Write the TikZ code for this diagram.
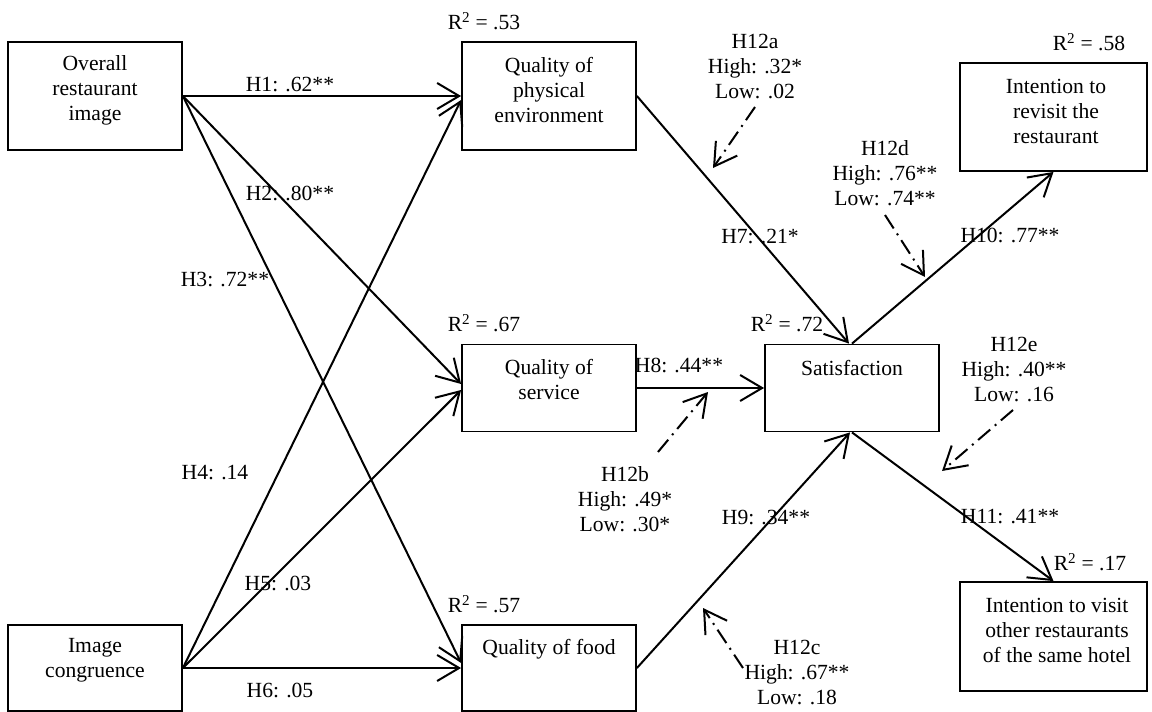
\documentclass[tikz,border=0pt]{standalone}
\usepackage{fontspec}
\setmainfont{Liberation Serif}
\usetikzlibrary{arrows.meta}
\begin{document}
\begin{tikzpicture}[x=1pt,y=-1pt,
  font=\fontsize{21.6}{25}\selectfont,
  box/.style={draw, line width=1.8pt, inner sep=0pt},
  txt/.style={align=center, inner sep=0pt},
  lab/.style={inner sep=0pt},
  arr/.style={line width=2pt, -{Straight Barb[length=22pt,width=26pt]}},
  modarr/.style={arr, dash pattern=on 16pt off 6pt on 2pt off 6pt}]
\useasboundingbox[fill=white] (0,0) rectangle (1152,712);

% boxes
\node[box, minimum width=174pt, minimum height=108pt] (ori) at (95,96) {};
\node[box, minimum width=174pt, minimum height=86pt] (ic) at (95,668) {};
\node[box, minimum width=174pt, minimum height=108pt] (qpe) at (549,96) {};
\node[box, minimum width=174pt, minimum height=87pt] (qs) at (549,388) {};
\node[box, minimum width=174pt, minimum height=86pt] (qf) at (549,668) {};
\node[box, minimum width=174pt, minimum height=87pt] (s) at (852,388) {};
\node[box, minimum width=187pt, minimum height=108pt] (ir) at (1053.5,117) {};
\node[box, minimum width=187pt, minimum height=109pt] (iv) at (1053.5,636.5) {};

% box texts
\node[txt] (orit) at (95,90) {Overall\\restaurant\\image};
\node[txt] (ict) at (95,660.5) {Image\\congruence};
\node[txt] (qpet) at (549,90) {Quality of\\physical\\environment};
\node[txt] (qst) at (549,379.5) {Quality of\\service};
\node[txt] (qft) at (549,649) {Quality of food};
\node[txt] (st) at (852,368) {Satisfaction};
\node[txt] (irt) at (1056,111) {Intention to\\revisit the\\restaurant};
\node[txt] (ivt) at (1057,630) {Intention to visit\\other restaurants\\of the same hotel};

% R squared
\node[lab] (r53) at (484,21) {R\textsuperscript{2} = .53};
\node[lab] (r67) at (484,323) {R\textsuperscript{2} = .67};
\node[lab] (r72) at (787,323) {R\textsuperscript{2} = .72};
\node[lab] (r57) at (484,604) {R\textsuperscript{2} = .57};
\node[lab] (r58) at (1089,42) {R\textsuperscript{2} = .58};
\node[lab] (r17) at (1090,562) {R\textsuperscript{2} = .17};

% paths
\draw[arr] (ori.east) -- (qpe.west);
\draw[arr] (ori.east) -- ([yshift=4pt]qs.west);
\draw[arr] (ori.east) -- ([yshift=5pt]qf.west);
\draw[arr] (ic.east) -- ([yshift=-4pt]qpe.west);
\draw[arr] (ic.east) -- ([yshift=-2pt]qs.west);
\draw[arr] (ic.east) -- (qf.west);
\draw[arr] (qpe.east) -- ([xshift=-3pt]s.north);
\draw[arr] (qs.east) -- (s.west);
\draw[arr] (qf.east) -- ([xshift=-2pt]s.south);
\draw[arr] (s.north) -- (ir.south);
\draw[arr] (s.south) -- (iv.north);

% path labels
\node[lab] (h1) at (290,85) {H1: .62**};
\node[lab] (h2) at (290,193) {H2: .80**};
\node[lab] (h3) at (225,279) {H3: .72**};
\node[lab] (h4) at (215,473) {H4: .14};
\node[lab] (h5) at (278,583) {H5: .03};
\node[lab] (h6) at (280,690) {H6: .05};
\node[lab] (h7) at (760,236) {H7: .21*};
\node[lab] (h8) at (679,365) {H8: .44**};
\node[lab] (h9) at (766,517) {H9: .34**};
\node[lab] (h10) at (1010,235) {H10: .77**};
\node[lab] (h11) at (1010,517) {H11: .41**};

% moderators
\node[txt] (h12a) at (755,67) {H12a\\High: .32*\\Low: .02};
\node[txt] (h12b) at (625,499) {H12b\\High: .49*\\Low: .30*};
\node[txt] (h12c) at (797,672) {H12c\\High: .67**\\Low: .18};
\node[txt] (h12d) at (885,173) {H12d\\High: .76**\\Low: .74**};
\node[txt] (h12e) at (1014,369) {H12e\\High: .40**\\Low: .16};

\coordinate (ma1) at (755,107); \coordinate (ma2) at (713,168);
\coordinate (mb1) at (658,452); \coordinate (mb2) at (708,392);
\coordinate (mc1) at (743,668); \coordinate (mc2) at (703,608);
\coordinate (md1) at (885,215); \coordinate (md2) at (925,277);
\coordinate (me1) at (1013,410); \coordinate (me2) at (942,471);
\draw[modarr] (ma1) -- (ma2);
\draw[modarr] (mb1) -- (mb2);
\draw[modarr] (mc1) -- (mc2);
\draw[modarr] (md1) -- (md2);
\draw[modarr] (me1) -- (me2);
\end{tikzpicture}
\end{document}
